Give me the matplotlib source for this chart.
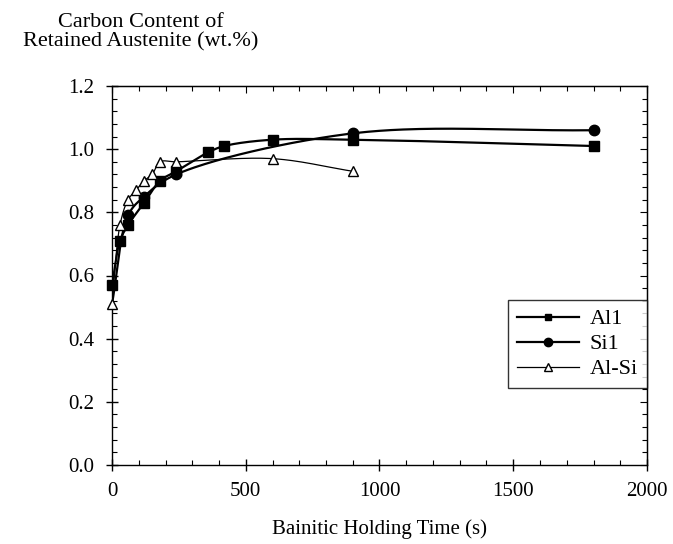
import matplotlib
matplotlib.use('Agg')
import matplotlib.pyplot as plt
import numpy as np

plt.rcParams['font.family'] = ['Liberation Serif', 'DejaVu Serif']

# data
time_al1 = [0, 30, 60, 120, 180, 240, 360, 420, 600, 900, 1800]
carbon_al1 = [0.57, 0.71, 0.76, 0.83, 0.90, 0.93, 0.99, 1.01, 1.03, 1.03, 1.01]

time_si1 = [0, 60, 120, 240, 900, 1800]
carbon_si1 = [0.51, 0.79, 0.85, 0.92, 1.05, 1.06]

time_alsi = [0, 30, 60, 90, 120, 150, 180, 240, 600, 900]
carbon_alsi = [0.51, 0.76, 0.84, 0.87, 0.90, 0.92, 0.96, 0.96, 0.97, 0.93]

x_ticks = [0, 500, 1000, 1500, 2000]
y_ticks = [0.0, 0.2, 0.4, 0.6, 0.8, 1.0, 1.2]

XMAX, YMAX = 2000, 1.2
AX_W, AX_H = 535, 379   # axes size in pixels


def smooth(x, y, n=60):
    """centripetal Catmull-Rom curve through the points, in screen proportions"""
    P = np.column_stack([np.asarray(x, float) / XMAX * AX_W,
                         np.asarray(y, float) / YMAX * AX_H])
    P = np.vstack([2 * P[0] - P[1], P, 2 * P[-1] - P[-2]])
    out = []
    for i in range(1, len(P) - 2):
        p0, p1, p2, p3 = P[i - 1], P[i], P[i + 1], P[i + 2]
        t0 = 0.0
        t1 = t0 + np.linalg.norm(p1 - p0) ** 0.5
        t2 = t1 + np.linalg.norm(p2 - p1) ** 0.5
        t3 = t2 + np.linalg.norm(p3 - p2) ** 0.5
        t = np.linspace(t1, t2, n)[:, None]
        a1 = (t1 - t) / (t1 - t0) * p0 + (t - t0) / (t1 - t0) * p1
        a2 = (t2 - t) / (t2 - t1) * p1 + (t - t1) / (t2 - t1) * p2
        a3 = (t3 - t) / (t3 - t2) * p2 + (t - t2) / (t3 - t2) * p3
        b1 = (t2 - t) / (t2 - t0) * a1 + (t - t0) / (t2 - t0) * a2
        b2 = (t3 - t) / (t3 - t1) * a2 + (t - t1) / (t3 - t1) * a3
        out.append((t2 - t) / (t2 - t1) * b1 + (t - t1) / (t2 - t1) * b2)
    C = np.vstack(out)
    return C[:, 0] / AX_W * XMAX, C[:, 1] / AX_H * YMAX


fig = plt.figure(figsize=(6.73, 5.44), dpi=100)
ax = fig.add_axes([112 / 673, 1 - 465 / 544, AX_W / 673, AX_H / 544])

series = [
    (time_al1, carbon_al1, 'Al1', 's', 'black', 1.6, 6.5, None),
    (time_si1, carbon_si1, 'Si1', 'o', 'black', 1.6, 7.5, slice(1, None)),
    (time_alsi, carbon_alsi, 'Al-Si', '^', 'white', 0.9, 7.5, None),
]

handles = []
for t, c, name, mk, fc, lw, ms, every in series:
    xs, ys = smooth(t, c)
    ax.plot(xs, ys, color='black', lw=lw, zorder=2)
    ax.plot(t, c, linestyle='none', marker=mk, ms=ms, mfc=fc, mec='black',
            mew=1.0, markevery=every, zorder=3, clip_on=False)
    h, = ax.plot([], [], color='black', lw=lw, marker=mk, ms=ms - 1.5,
                 mfc=fc, mec='black', mew=1.0, label=name)
    handles.append(h)

ax.set_xlim(0, XMAX)
ax.set_ylim(0, YMAX)
ax.set_xticks(x_ticks)
ax.set_yticks(y_ticks)
ax.set_xticklabels([str(v) for v in x_ticks])
ax.set_yticklabels(['%.1f' % v for v in y_ticks])
ax.set_xticks(np.arange(0, 2001, 100), minor=True)
ax.set_yticks(np.arange(0, 1.2001, 0.04), minor=True)
ax.tick_params(which='major', direction='inout', length=9, width=1,
               labelsize=15, pad=8)
ax.tick_params(which='minor', direction='in', length=3.5, width=0.8)

# ticks mirrored on top and right, pointing inward
sx = ax.secondary_xaxis('top')
sx.set_xticks(x_ticks)
sx.set_xticks(np.arange(0, 2001, 100), minor=True)
sx.tick_params(which='major', direction='in', length=5, labeltop=False)
sx.tick_params(which='minor', direction='in', length=3.5, width=0.8)
sy = ax.secondary_yaxis('right')
sy.set_yticks(y_ticks)
sy.set_yticks(np.arange(0, 1.2001, 0.04), minor=True)
sy.tick_params(which='major', direction='in', length=5, labelright=False)
sy.tick_params(which='minor', direction='in', length=3.5, width=0.8)

for s in ax.spines.values():
    s.set_linewidth(1.0)

ax.set_xlabel('Bainitic Holding Time (s)', fontsize=15, labelpad=13)
fig.text(141 / 673, 1 - 13 / 544, 'Carbon Content of\nRetained Austenite (wt.%)',
         ha='center', va='top', fontsize=16, linespacing=1.0)

leg = ax.legend(handles=handles, loc='upper right',
                bbox_to_anchor=(1.0, (465 - 300) / AX_H), borderaxespad=0,
                fontsize=16, frameon=True, fancybox=False, handlelength=2.8,
                labelspacing=0.2, handletextpad=0.5, borderpad=0.4)
leg.get_frame().set_edgecolor('black')
leg.get_frame().set_linewidth(1.0)

fig.savefig('out.png', dpi=100)
